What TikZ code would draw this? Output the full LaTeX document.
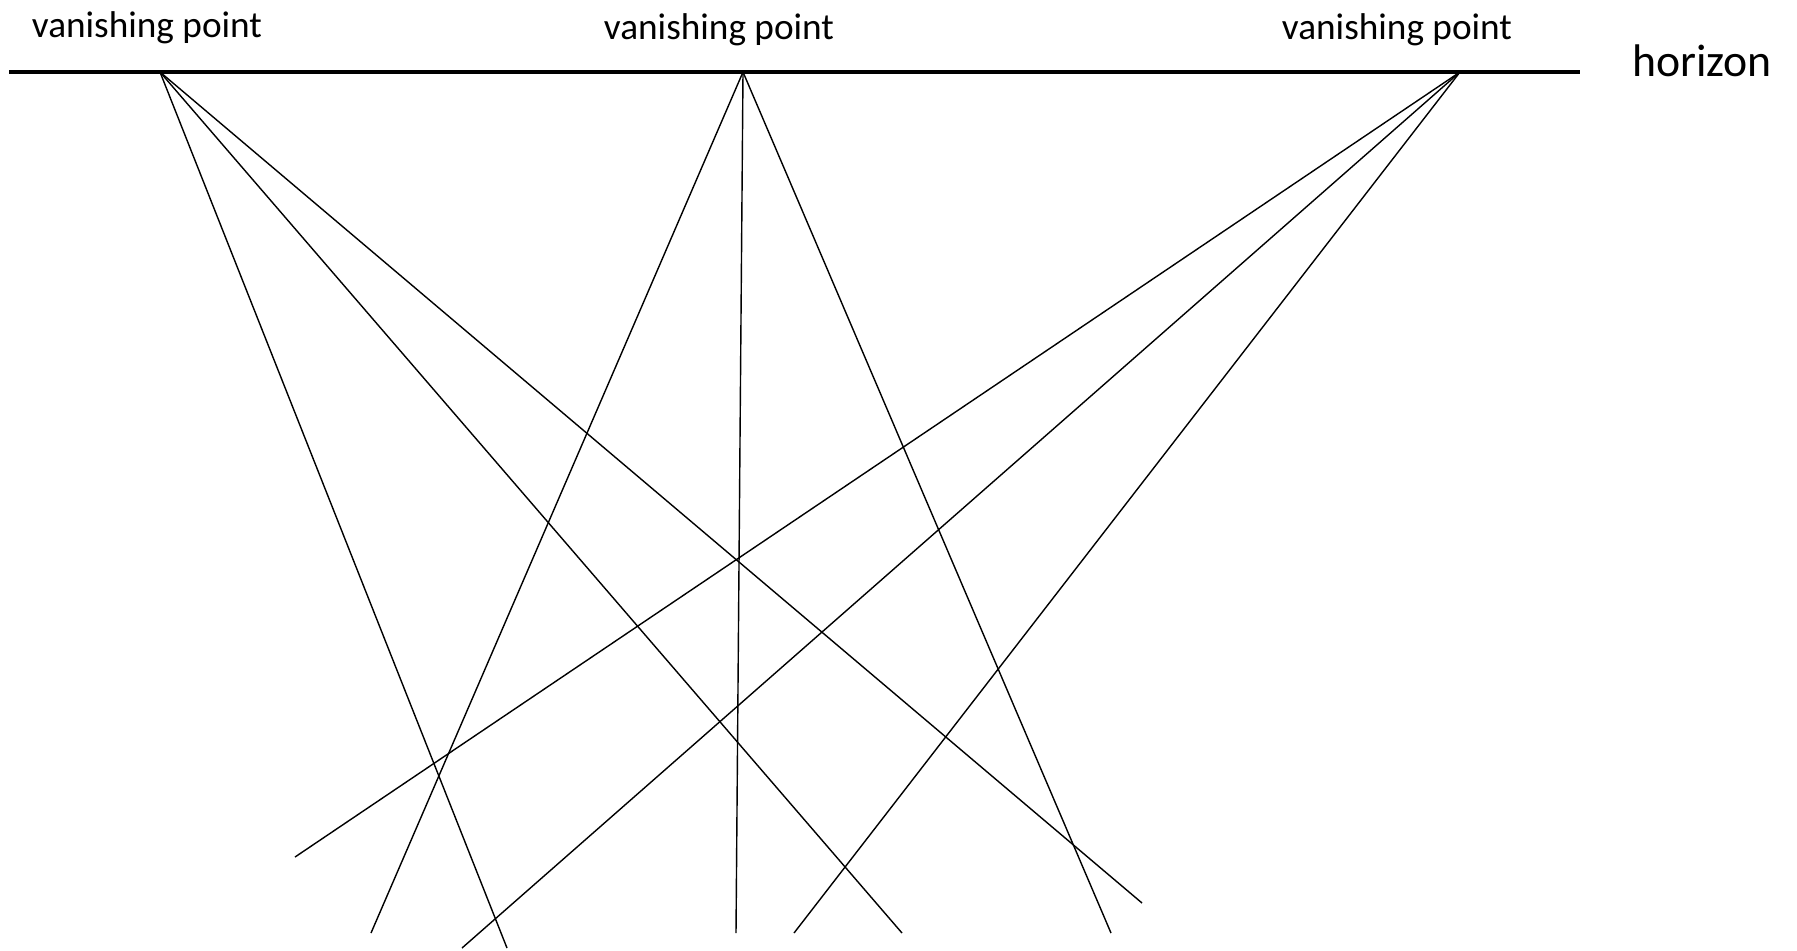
\documentclass[tikz,border=0pt]{standalone}
\usepackage{fontspec}
\setmainfont{Carlito}
\tikzset{
  horizonline/.style={line width=0.95pt},
  sightline/.style={line width=0.4pt},
  vplabel/.style={font=\fontsize{10.6pt}{12pt}\selectfont, inner sep=0pt}
}
\begin{document}
\begin{tikzpicture}[x=0.01cm,y=-0.01cm]
\useasboundingbox (0,0) rectangle (1797,950);
% horizon
\coordinate (hl) at (9,72);
\coordinate (hr) at (1580,72);
\draw[horizonline] (hl) -- (hr);
\node[font=\fontsize{13pt}{15pt}\selectfont, inner sep=0pt] (horizon) at (1702,61) {horizon};
% vanishing points
\coordinate (vp1) at (160,72);
\coordinate (vp2) at (743,72);
\coordinate (vp3) at (1460,72);
\node[vplabel] (lab1) at (147,28) {vanishing point};
\node[vplabel] (lab2) at (719,30) {vanishing point};
\node[vplabel] (lab3) at (1397,30) {vanishing point};
% free ends
\coordinate (a1) at (507,948);
\coordinate (a2) at (902,933);
\coordinate (a3) at (1142,903);
\coordinate (b1) at (371,933);
\coordinate (b2) at (736,933);
\coordinate (b3) at (1111,933);
\coordinate (c1) at (295,857);
\coordinate (c2) at (462,948);
\coordinate (c3) at (794,933);
\foreach \i in {1,2,3}
  \draw[sightline] (vp1) -- (a\i);
\foreach \i in {1,2,3}
  \draw[sightline] (vp2) -- (b\i);
\foreach \i in {1,2,3}
  \draw[sightline] (vp3) -- (c\i);
\end{tikzpicture}
\end{document}
